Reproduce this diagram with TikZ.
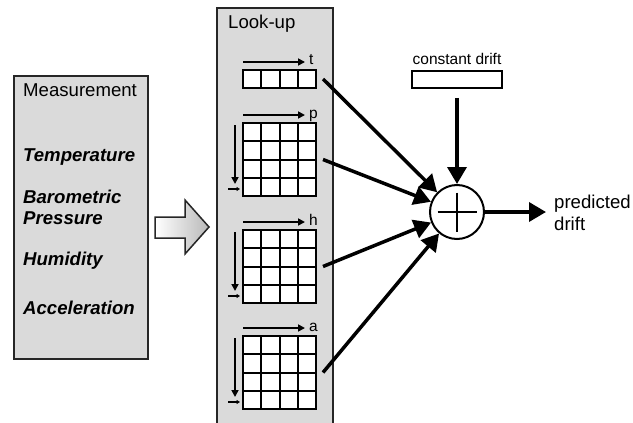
\documentclass[tikz,border=0pt]{standalone}
\usepackage{fontspec}
\setmainfont{Liberation Sans}
\usetikzlibrary{arrows.meta}
\definecolor{panelgray}{RGB}{218,218,218}
\begin{document}
\begin{tikzpicture}[x=1pt,y=-1pt,
  panel/.style={fill=panelgray, draw=black!85, line width=1.5pt},
  txt/.style={font=\fontsize{18.6}{22}\selectfont, inner sep=0pt},
  meas/.style={font=\fontsize{18.6}{22}\selectfont\bfseries\itshape, inner sep=0pt, anchor=base west},
  small/.style={font=\fontsize{15.5}{18}\selectfont, inner sep=0pt},
  cellbox/.style={draw=black, fill=white, line width=2pt, inner sep=0pt, outer sep=0pt},
  gridline/.style={line width=2pt},
  thinarrow/.style={line width=1.7pt, -{Triangle[length=7pt,width=7pt]}},
  tinyarrow/.style={line width=1.2pt, -{Triangle[length=3.5pt,width=4pt]}},
  bigarrow/.style={line width=3.5pt, -{Triangle[length=17pt,width=19pt]}}]
\useasboundingbox (0,0) rectangle (633,423);

% Measurement panel
\node[panel, anchor=north west, minimum width=134pt, minimum height=283pt, inner sep=0pt] (meas) at (13,75) {};
\node[txt, anchor=base west] (mtitle) at (23,96) {Measurement};
\node[meas] (mtemp) at (23,161) {Temperature};
\node[meas] (mbaro) at (23,203) {Barometric};
\node[meas] (mpres) at (23,224) {Pressure};
\node[meas] (mhum) at (23,265) {Humidity};
\node[meas] (macc) at (23,314) {Acceleration};

% block arrow
\path[draw=black!85, line width=1.5pt, left color=white, right color=gray!55]
  (155,217) -- (185,217) -- (185,200) -- (209,227) -- (185,254) -- (185,238) -- (155,238) -- cycle;

% Look-up panel (continues past the bottom edge)
\fill[panelgray] (217,8) rectangle (333,424);
\draw[black!85, line width=1.5pt] (217,424) -- (217,8) -- (333,8) -- (333,424);
\node[txt, anchor=base west] (ltitle) at (228,28) {Look-up};

% t row
\node[cellbox, anchor=north west, minimum width=73pt, minimum height=18pt] (gt) at (243,70) {};
\foreach \i in {1,2,3}{
  \draw[gridline] (243+18.25*\i,70) -- (243+18.25*\i,88);
}
\draw[thinarrow] (243,62) -- (305,62);
\node[small, anchor=base west] (gt-lab) at (309,64) {t};

% 4x4 grids
\foreach \nm/\lab/\y in {gp/p/123,gh/h/230,ga/a/336}{
  \node[cellbox, anchor=north west, minimum width=73pt, minimum height=73pt] (\nm) at (243,\y) {};
  \foreach \i in {1,2,3}{
    \draw[gridline] (243+18.25*\i,\y) -- (243+18.25*\i,\y+73);
    \draw[gridline] (243,\y+18.25*\i) -- (316,\y+18.25*\i);
  }
  \draw[thinarrow] (243,\y-8) -- (305,\y-8);
  \node[small, anchor=base west] (\nm-lab) at (309,\y-5) {\lab};
  \draw[thinarrow] (235,\y+2) -- (235,\y+61);
  \draw[tinyarrow] (228,\y+66) -- (240,\y+66);
}

% summation
\node[circle, draw=black, fill=white, line width=2pt, minimum size=54pt, inner sep=0pt] (sum) at (457,212) {};
\draw[line width=2.8pt] (437.5,212) -- (476.5,212) (457,192.5) -- (457,231.5);

% constant drift
\node[small, anchor=base] (cdlab) at (457,64) {constant drift};
\node[draw=black, fill=white, line width=1.6pt, minimum width=90pt, minimum height=17pt, inner sep=0pt] (cd) at (457,79.5) {};
\draw[bigarrow, shorten <=9pt] (cd) -- (sum);

% inputs
\draw[bigarrow] ([xshift=7pt]gt.east) -- (sum);
\draw[bigarrow] ([xshift=7pt]gp.east) -- (sum);
\draw[bigarrow] ([xshift=7pt]gh.east) -- (sum);
\draw[bigarrow] ([xshift=7pt]ga.east) -- (sum);

% output
\coordinate (out) at (546,212);
\draw[bigarrow] (sum) -- (out);
\node[txt, anchor=base west] (pred1) at (554,208) {predicted};
\node[txt, anchor=base west] (pred2) at (554,230) {drift};
\end{tikzpicture}
\end{document}
